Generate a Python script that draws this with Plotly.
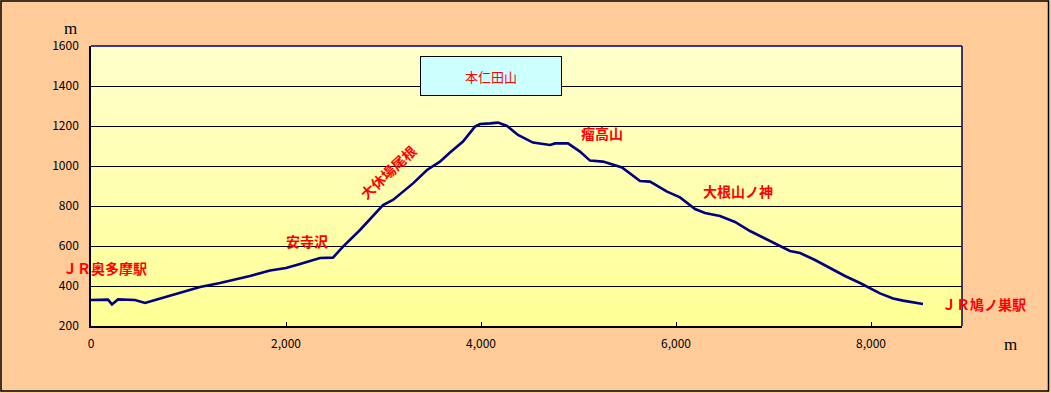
import plotly.graph_objects as go

# Elevation profile (distance in m, altitude in m)
distance = [0, 174, 215, 277, 451, 554, 605, 810, 964, 1118, 1323, 1631, 1836, 2000,
            2144, 2349, 2482, 2585, 2759, 2995, 3097, 3303, 3446, 3579, 3682, 3815,
            3938, 3990, 4092, 4174, 4267, 4379, 4533, 4708, 4759, 4892, 5015, 5118,
            5251, 5446, 5631, 5733, 5908, 6041, 6195, 6297, 6451, 6605, 6759, 6964,
            7169, 7272, 7426, 7579, 7733, 7887, 8092, 8226, 8328, 8533]
altitude = [330, 332, 308, 333, 330, 315, 322, 350, 372, 395, 415, 450, 478, 490,
            510, 540, 542, 597, 680, 805, 830, 913, 980, 1022, 1067, 1122,
            1197, 1210, 1213, 1217, 1200, 1155, 1117, 1105, 1113, 1113, 1072, 1027,
            1022, 993, 925, 922, 872, 843, 785, 765, 750, 720, 675, 625,
            575, 565, 530, 490, 450, 415, 363, 338, 327, 310]

x_max = 8933
x_ticks = [0, 2000, 4000, 6000, 8000]
x_tick_text = ["0", "2,000", "4,000", "6,000", "8,000"]
y_min, y_max = 200, 1600
y_ticks = [200, 400, 600, 800, 1000, 1200, 1400, 1600]

# place labels in data units
place_names = ["ＪＲ奥多摩駅", "安寺沢", "大休場尾根", "瘤高山", "大根山ノ神", "ＪＲ鳩ノ巣駅"]
place_x = [144, 2215, 3046, 5241, 6636, 9159]
place_y = [492, 625, 970, 1165, 875, 310]
place_angle = [0, 0, -43, 0, 0, 0]
summit_name = "本仁田山"
summit_x, summit_y = 4103, 1450

W, H = 1051, 393
ml, mr, mt, mb = 91, 89, 46, 67
pw, ph = W - ml - mr, H - mt - mb

fig = go.Figure()
fig.add_trace(go.Scatter(x=distance, y=altitude, mode="lines",
                         line=dict(color="#000080", width=2.6), hoverinfo="skip",
                         showlegend=False))

shapes = []
# vertical gradient background in plot area
n = 56
c_top = (255, 255, 204)
c_bot = (255, 255, 150)
for i in range(n):
    t = i / (n - 1)
    c = tuple(round(c_top[k] + (c_bot[k] - c_top[k]) * t) for k in range(3))
    shapes.append(dict(type="rect", xref="paper", yref="paper", x0=0, x1=1,
                       y0=1 - (i + 1) / n - 0.002, y1=1 - i / n,
                       fillcolor="rgb(%d,%d,%d)" % c, line=dict(width=0), layer="below"))
# navy top and right border of plot area
shapes.append(dict(type="line", xref="paper", yref="paper", x0=0, x1=1, y0=1, y1=1,
                   line=dict(color="#000080", width=1.5), layer="above"))
shapes.append(dict(type="line", xref="paper", yref="paper", x0=1, x1=1, y0=0, y1=1,
                   line=dict(color="#000040", width=1.5), layer="above"))
# outer border of the whole chart
shapes.append(dict(type="rect", xref="paper", yref="paper",
                   x0=(1.0 - ml) / pw, x1=(1048.5 - ml) / pw,
                   y0=1 - (391 - mt) / ph, y1=1 - (1.0 - mt) / ph,
                   line=dict(color="#000000", width=1.5), fillcolor="rgba(0,0,0,0)",
                   layer="above"))

annotations = []
for name, ax_, ay_, ang in zip(place_names, place_x, place_y, place_angle):
    annotations.append(dict(x=ax_ / x_max, y=(ay_ - y_min) / (y_max - y_min),
                            xref="paper", yref="paper", xanchor="center", yanchor="middle",
                            text="<b>%s</b>" % name, showarrow=False, textangle=ang,
                            font=dict(family="Noto Sans CJK JP", size=14, color="#FF0000")))
annotations.append(dict(x=summit_x, y=summit_y, xref="x", yref="y", text=summit_name,
                        showarrow=False, width=140, height=38, bgcolor="#CCFFFF",
                        bordercolor="#000000", borderwidth=1, borderpad=0,
                        font=dict(family="Noto Sans CJK JP", size=13, color="#FF0000")))
# axis unit labels
annotations.append(dict(x=(70 - ml) / pw, y=1 + (mt - 28) / ph, xref="paper", yref="paper",
                        xanchor="center", yanchor="middle", text="m", showarrow=False,
                        font=dict(family="Liberation Serif", size=17, color="#000000")))
annotations.append(dict(x=(1010 - ml) / pw, y=-(344 - mt - ph) / ph, xref="paper", yref="paper",
                        xanchor="center", yanchor="middle", text="m", showarrow=False,
                        font=dict(family="Liberation Serif", size=17, color="#000000")))

fig.update_layout(
    width=W, height=H, margin=dict(l=ml, r=mr, t=mt, b=mb, pad=0),
    paper_bgcolor="#FFCC99", plot_bgcolor="#FFFF99",
    shapes=shapes, annotations=annotations, showlegend=False,
    font=dict(family="Noto Sans CJK JP", size=12, color="#000000"),
    xaxis=dict(range=[0, x_max], tickvals=x_ticks, ticktext=x_tick_text,
               showgrid=False, zeroline=False, showline=True, linecolor="#000000",
               linewidth=1.5, ticks="inside", ticklen=4, tickcolor="#000000",
               ticklabelstandoff=6, tickfont=dict(size=12)),
    yaxis=dict(range=[y_min, y_max], tickvals=y_ticks, showgrid=True, gridcolor="#000000",
               gridwidth=1, zeroline=False, showline=True, linecolor="#000000",
               linewidth=1.5, ticks="", ticklabelstandoff=8, tickfont=dict(size=12)),
)

fig.write_html("out.html")
